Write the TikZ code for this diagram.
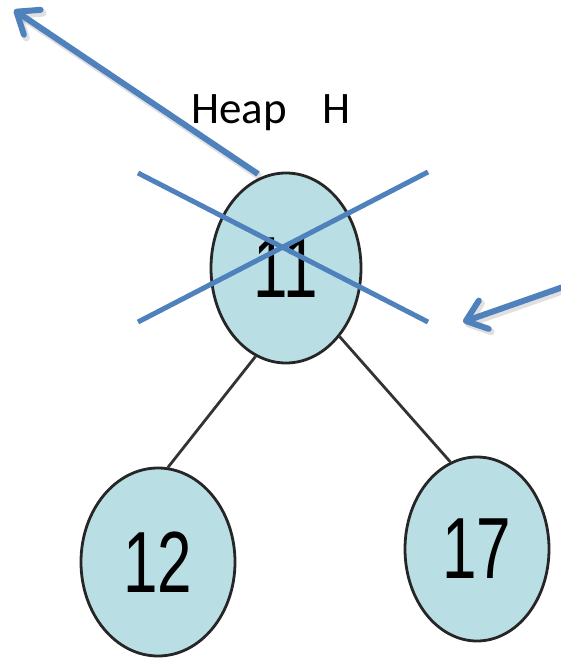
\documentclass[tikz,border=0pt]{standalone}
\usepackage{fontspec}
\usepackage{graphicx}
\setmainfont{Carlito}
\newfontfamily\digitfont{Liberation Sans}
\usetikzlibrary{shapes.geometric,arrows.meta}
\definecolor{heapfill}{RGB}{185,222,228}
\definecolor{markblue}{RGB}{79,129,189}
\newcommand{\tallnum}[1]{\scalebox{1}[1.4]{#1}}
\begin{document}
\begin{tikzpicture}[x=1pt,y=-1pt,
  heapnode/.style={ellipse,draw=black!85,line width=2.8pt,fill=heapfill,inner sep=0pt,
    font=\digitfont\fontsize{62}{62}\selectfont},
  treeedge/.style={draw=black!80,line width=2.8pt},
  strike/.style={draw=markblue,line width=5pt},
  pointer/.style={draw=markblue,line width=6pt,
    -{Straight Barb[length=19pt,width=30pt,round]}},
  pshadow/.style={draw=black,opacity=0.12,line width=7pt,
    -{Straight Barb[length=19pt,width=30pt,round]}},
  title/.style={font=\fontsize{45}{45}\selectfont,inner sep=0pt,anchor=base}
]
\useasboundingbox (0,0) rectangle (560,658);

% title
\node[title] (title) at (271,124) {Heap\hspace{36pt}H};

% heap nodes
\node[heapnode,minimum width=150pt,minimum height=190pt] (n11) at (286,268) {\tallnum{11}};
\node[heapnode,minimum width=154pt,minimum height=188pt] (n12) at (158,562) {\tallnum{12}};
\node[heapnode,minimum width=144pt,minimum height=184pt] (n17) at (477,549) {\tallnum{17}};

% tree edges
\draw[treeedge] (n11.251) -- (n12.84);
\draw[treeedge] (n11.308) -- (n17.107);

% cross-out strokes over the root
\coordinate (c1a) at (138,173);
\coordinate (c1b) at (428,322);
\coordinate (c2a) at (428,172);
\coordinate (c2b) at (138,322);
\draw[strike] (c1a) -- (c1b);
\draw[strike] (c2a) -- (c2b);

% pointers with a soft drop shadow
\coordinate (a1s) at (258,174);
\coordinate (a1e) at (14,10);
\coordinate (a2s) at (563,287);
\coordinate (a2e) at (463,322);
\draw[pshadow,transform canvas={shift={(2pt,-3pt)}}] (a1s) -- (a1e);
\draw[pshadow,transform canvas={shift={(2pt,-3pt)}}] (a2s) -- (a2e);
\draw[pointer] (a1s) -- (a1e);
\draw[pointer] (a2s) -- (a2e);
\end{tikzpicture}
\end{document}
